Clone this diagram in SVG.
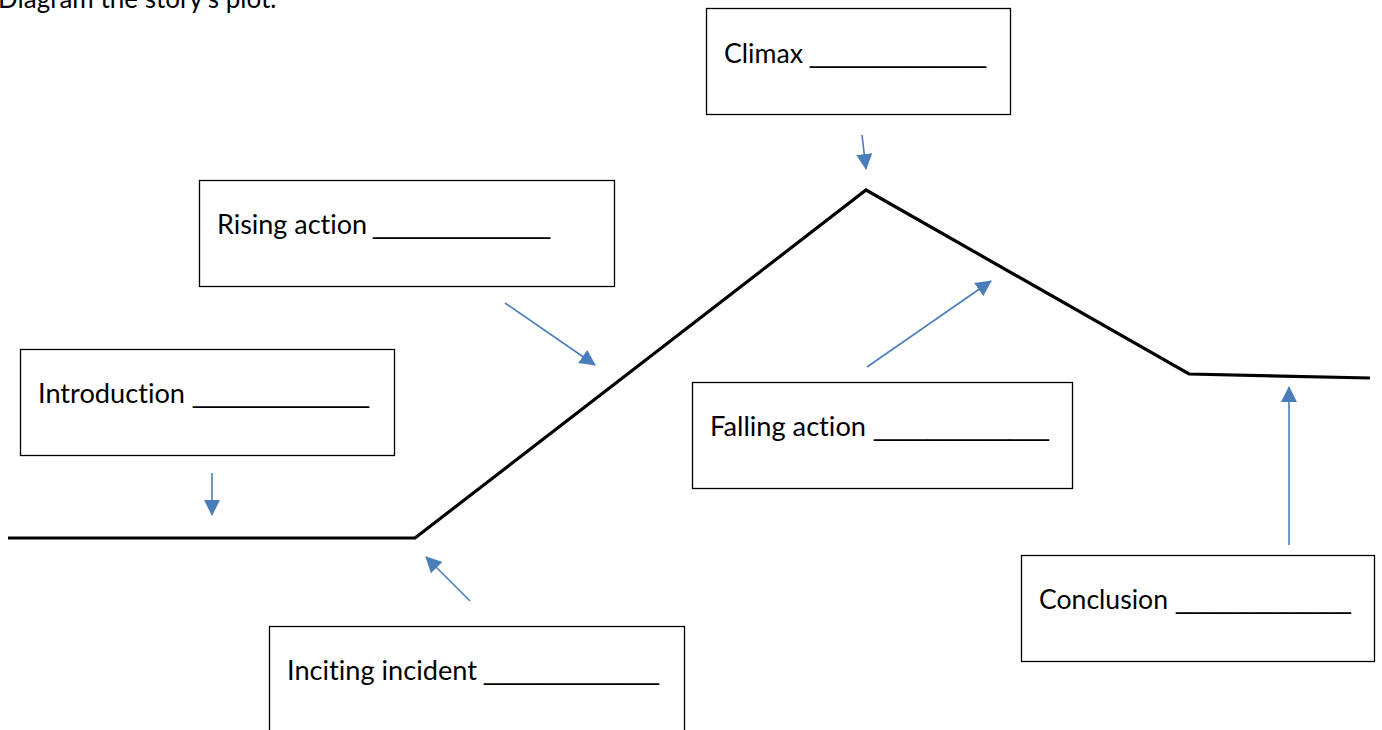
<svg xmlns="http://www.w3.org/2000/svg" width="1382" height="730" viewBox="0 0 1382 730">
<style>
.box{fill:#fff;stroke:#000;stroke-width:1.3}
.lbl{font-family:Lato,"Open Sans","Liberation Sans",sans-serif;font-size:26px;fill:#000;font-variant-ligatures:none}
.u{font-family:"Liberation Sans",sans-serif}
.plot{fill:none;stroke:#000;stroke-width:3.2;stroke-linejoin:miter}
.arr{fill:none;stroke:#4a7ebb;stroke-width:1.6;marker-end:url(#ah)}
</style>
<defs>
<marker id="ah" markerUnits="userSpaceOnUse" markerWidth="16" markerHeight="16" viewBox="0 0 16 16" refX="15" refY="8" orient="auto">
<path d="M0,0 L16,8 L0,16 Z" fill="#4a7ebb"/>
</marker>
</defs>
<text class="lbl" x="-2" y="8">Diagram the story's plot.</text>
<g id="plotline"><polyline class="plot" points="8,538 415,538 866,190 1189,374 1370,378"/></g>
<g id="connectors">
<line class="arr" x1="862" y1="135" x2="866" y2="169"/>
<line class="arr" x1="505" y1="303" x2="595" y2="365"/>
<line class="arr" x1="212" y1="473" x2="212" y2="515"/>
<line class="arr" x1="470" y1="601" x2="426" y2="557"/>
<line class="arr" x1="867" y1="367" x2="991" y2="281"/>
<line class="arr" x1="1289" y1="545" x2="1289" y2="387"/>
</g>
<g id="climax"><rect class="box" x="706.5" y="8.5" width="304" height="106"/><text class="lbl" y="63"><tspan x="724" textLength="79" lengthAdjust="spacingAndGlyphs">Climax</tspan> <tspan class="u" x="810" textLength="176" lengthAdjust="spacingAndGlyphs">_____________</tspan></text></g>
<g id="rising"><rect class="box" x="199.5" y="180.5" width="415" height="106"/><text class="lbl" y="234"><tspan x="217" textLength="150" lengthAdjust="spacingAndGlyphs">Rising action</tspan> <tspan class="u" x="373" textLength="177" lengthAdjust="spacingAndGlyphs">_____________</tspan></text></g>
<g id="introduction"><rect class="box" x="20.5" y="349.5" width="374" height="106"/><text class="lbl" y="403"><tspan x="38" textLength="147" lengthAdjust="spacingAndGlyphs">Introduction</tspan> <tspan class="u" x="193" textLength="176" lengthAdjust="spacingAndGlyphs">_____________</tspan></text></g>
<g id="inciting"><rect class="box" x="269.5" y="626.5" width="415" height="110"/><text class="lbl" y="680"><tspan x="287" textLength="190" lengthAdjust="spacingAndGlyphs">Inciting incident</tspan> <tspan class="u" x="484" textLength="175" lengthAdjust="spacingAndGlyphs">_____________</tspan></text></g>
<g id="falling"><rect class="box" x="692.5" y="382.5" width="380" height="106"/><text class="lbl" y="436"><tspan x="710" textLength="156" lengthAdjust="spacingAndGlyphs">Falling action</tspan> <tspan class="u" x="874" textLength="175" lengthAdjust="spacingAndGlyphs">_____________</tspan></text></g>
<g id="conclusion"><rect class="box" x="1021.5" y="555.5" width="353" height="106"/><text class="lbl" y="609"><tspan x="1039" textLength="129" lengthAdjust="spacingAndGlyphs">Conclusion</tspan> <tspan class="u" x="1176" textLength="175" lengthAdjust="spacingAndGlyphs">_____________</tspan></text></g>
</svg>
